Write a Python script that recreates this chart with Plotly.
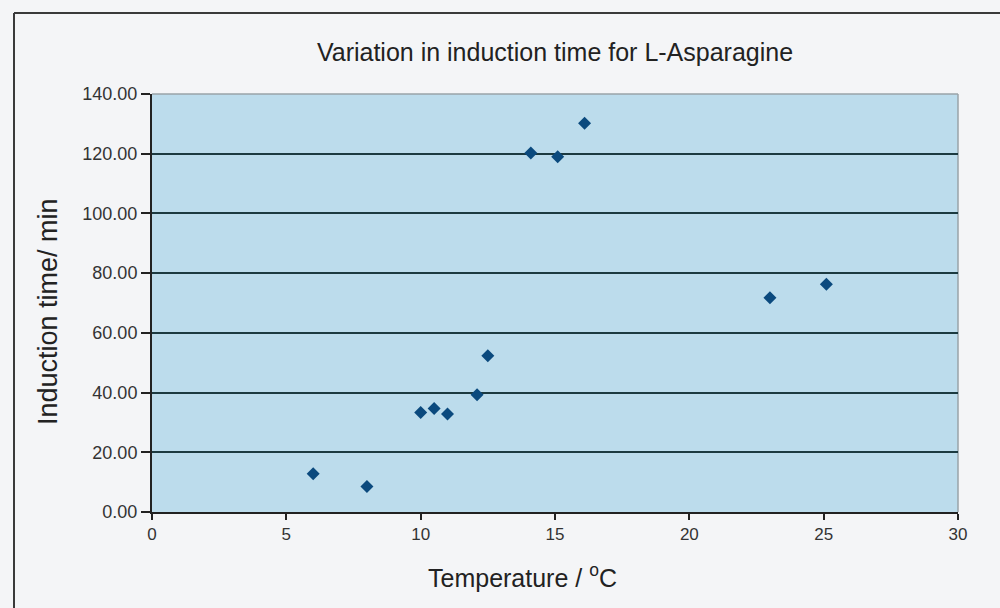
import plotly.graph_objects as go

# Induction time measurements for L-Asparagine
temperature_c = [6.0, 8.0, 10.0, 10.5, 11.0, 12.1, 12.5, 14.1, 15.1, 16.1, 23.0, 25.1]
induction_min = [12.8, 8.5, 33.3, 34.7, 32.8, 39.3, 52.3, 120.2, 119.0, 130.2, 71.8, 76.3]

x_ticks = [0, 5, 10, 15, 20, 25, 30]
y_ticks = [0, 20, 40, 60, 80, 100, 120, 140]

# plotting-area geometry in pixels (used to place the free-standing labels)
PLOT_L, PLOT_R, PLOT_T, PLOT_B = 152, 958, 94, 512
W = PLOT_R - PLOT_L
H = PLOT_B - PLOT_T


def px_x(px):
    return (px - PLOT_L) / W


def px_y(py):
    return (PLOT_B - py) / H


font_family = "Arial, Liberation Sans, sans-serif"

fig = go.Figure()
fig.add_trace(go.Scatter(
    x=temperature_c,
    y=induction_min,
    mode="markers",
    marker=dict(symbol="diamond", size=10, color="#0b4a7e",
                line=dict(width=0)),
    showlegend=False,
))

fig.update_layout(
    width=1000, height=608,
    margin=dict(l=PLOT_L, r=1000 - PLOT_R, t=PLOT_T, b=608 - PLOT_B),
    paper_bgcolor="#f4f5f7",
    plot_bgcolor="#bcdcec",
    font=dict(family=font_family, color="#333333"),
    title=dict(
        text="Variation in induction time for L-Asparagine",
        x=0.5, xref="paper", xanchor="center",
        y=1 - 52 / 608, yanchor="middle",
        font=dict(size=25, color="#222222", family=font_family),
    ),
    xaxis=dict(
        range=[0, 30], tickvals=x_ticks,
        ticks="outside", ticklen=6, tickwidth=1.5, tickcolor="#222222",
        showline=True, linecolor="#222222", linewidth=2,
        showgrid=False, zeroline=False,
        tickfont=dict(size=17, color="#333333"),
    ),
    yaxis=dict(
        range=[0, 140], tickvals=y_ticks, tickformat=".2f",
        ticks="outside", ticklen=9, tickwidth=1.5, tickcolor="#222222",
        showline=True, linecolor="#222222", linewidth=2,
        showgrid=True, gridcolor="#1c3a40", gridwidth=2,
        zeroline=False,
        tickfont=dict(size=18, color="#333333"),
    ),
    annotations=[
        dict(text="Temperature / <sup>o</sup>C", xref="paper", yref="paper",
             x=px_x(522), y=px_y(576), xanchor="center", yanchor="middle",
             showarrow=False, font=dict(size=25, color="#222222")),
        dict(text="Induction time/ min", xref="paper", yref="paper",
             x=px_x(48), y=px_y(312), xanchor="center", yanchor="middle",
             textangle=-90, showarrow=False,
             font=dict(size=27, color="#222222")),
    ],
    shapes=[
        # light frame on the top and right of the plotting area
        dict(type="line", xref="paper", yref="paper", x0=0, x1=1, y0=1, y1=1,
             line=dict(color="#9aa3a8", width=1.5), layer="below"),
        dict(type="line", xref="paper", yref="paper", x0=1, x1=1, y0=0, y1=1,
             line=dict(color="#9aa3a8", width=1.5), layer="below"),
        # outer chart border
        dict(type="line", xref="paper", yref="paper",
             x0=px_x(14), x1=px_x(1010), y0=px_y(13), y1=px_y(13),
             line=dict(color="#3a3a3a", width=2)),
        dict(type="line", xref="paper", yref="paper",
             x0=px_x(14), x1=px_x(14), y0=px_y(13), y1=px_y(620),
             line=dict(color="#3a3a3a", width=2)),
    ],
)

fig.write_html("out.html")
